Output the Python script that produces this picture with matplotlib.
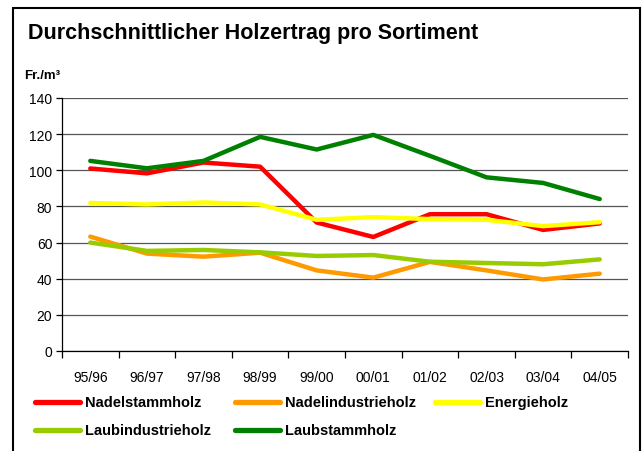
import matplotlib
matplotlib.use("Agg")
import matplotlib.pyplot as plt
from matplotlib.lines import Line2D
from matplotlib.patches import Rectangle
import numpy as np

plt.rcParams['font.family'] = ['Liberation Sans', 'DejaVu Sans']

categories = ["95/96", "96/97", "97/98", "98/99", "99/00", "00/01", "01/02", "02/03", "03/04", "04/05"]
nadelstammholz = [101, 98.3, 104.3, 102, 71.1, 63.1, 75.7, 75.7, 67, 70.6]
nadelindustrieholz = [63.3, 53.9, 52.2, 54.4, 44.6, 40.6, 49.3, 44.6, 39.6, 42.8]
energieholz = [81.9, 81.1, 82.2, 81.1, 72.6, 74.1, 73, 72.6, 69.1, 71.3]
laubindustrieholz = [60, 55.4, 55.9, 54.6, 52.6, 53.1, 49.4, 48.7, 48, 50.7]
laubstammholz = [105.2, 101.1, 105.2, 118.5, 111.5, 119.6, 108, 96.1, 93, 84.1]

series_labels = ["Nadelstammholz", "Nadelindustrieholz", "Energieholz", "Laubindustrieholz", "Laubstammholz"]
series_values = [nadelstammholz, nadelindustrieholz, energieholz, laubindustrieholz, laubstammholz]
series_colors = ["#FF0000", "#FF9900", "#FFFF00", "#99CC00", "#008000"]

W, H = 644, 452
fig = plt.figure(figsize=(W / 100, H / 100), dpi=100)
fig.patch.set_facecolor("white")

# outer frame
fig.add_artist(Rectangle((13 / W, -0.05), (640 - 13) / W, 1.05 - 9 / H,
                         transform=fig.transFigure, fill=False, edgecolor="black", lw=1.5))

ax = fig.add_axes([62 / W, 1 - 352 / H, (628 - 62) / W, (352 - 99) / H])
x = np.arange(len(categories)) + 0.5
for vals, col in zip(series_values, series_colors):
    ax.plot(x, vals, color=col, lw=3.2, solid_capstyle="round", solid_joinstyle="round", zorder=3)

ax.set_xlim(0, len(categories))
ax.set_ylim(0, 140)
ax.set_yticks(np.arange(0, 141, 20))
ax.yaxis.grid(True, color="#555555", lw=0.9, zorder=0)
ax.set_axisbelow(True)
for s in ["top", "right"]:
    ax.spines[s].set_visible(False)
ax.spines["left"].set_color("black")
ax.spines["bottom"].set_color("black")
ax.spines["left"].set_linewidth(0.9)
ax.spines["bottom"].set_linewidth(0.9)

ax.set_xticks(np.arange(0, len(categories) + 1))
ax.set_xticklabels([])
ax.set_xticks(x, minor=True)
ax.set_xticklabels(categories, minor=True, fontsize=10)
ax.tick_params(axis="x", which="major", direction="out", length=5, width=0.9)
ax.tick_params(axis="x", which="minor", length=0, pad=14)
ax.tick_params(axis="y", direction="out", length=4, width=0.9, labelsize=10, pad=3)

fig.text(28 / W, 1 - 34 / H, "Durchschnittlicher Holzertrag pro Sortiment",
         fontsize=15.5, fontweight="bold", va="center", ha="left")
fig.text(24 / W, 1 - 76 / H, "Fr./m³", fontsize=9.5, fontweight="bold", va="center", ha="left")

# legend (manual, row-major)
col_x = [35, 235, 435]
row_y = [403, 431]
for i, (lab, col) in enumerate(zip(series_labels, series_colors)):
    c, r = i % 3, i // 3
    x0 = col_x[c]
    y0 = 1 - row_y[r] / H
    fig.add_artist(Line2D([x0 / W, (x0 + 45) / W], [y0, y0], color=col, lw=3.8,
                          solid_capstyle="round", transform=fig.transFigure))
    fig.text((x0 + 50) / W, y0, lab, fontsize=10.5, fontweight="bold", va="center", ha="left")

fig.savefig("out.png", dpi=100)
